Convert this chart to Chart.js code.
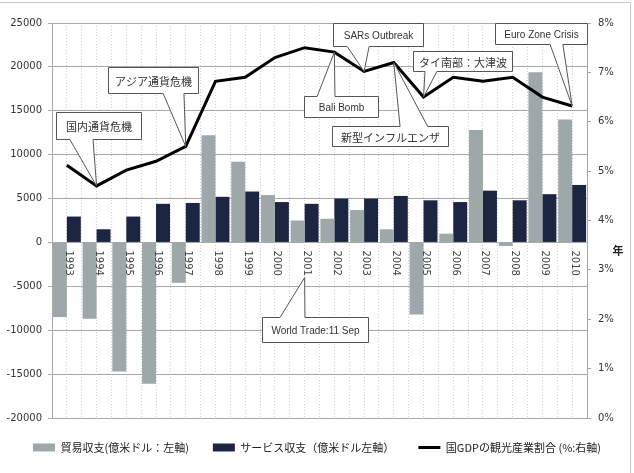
<!DOCTYPE html>
<html>
<head>
<meta charset="utf-8">
<script src="https://cdn.jsdelivr.net/npm/chart.js@4.4.1/dist/chart.umd.min.js"></script>
<style>
    html, body { margin: 0; padding: 0; background: #fff; }
    #wrap { width: 634px; height: 473px; }
</style>
</head>
<body>
<div id="wrap"><canvas id="chartJS1" width="634" height="473"></canvas></div>
<script>
// years on the category axis
var years = ['1993', '1994', '1995', '1996', '1997', '1998', '1999', '2000', '2001',
    '2002', '2003', '2004', '2005', '2006', '2007', '2008', '2009', '2010'];

// 貿易収支 (億米ドル, left axis)
var tradeBalance = [-8500, -8700, -14700, -16100, -4600, 12200, 9200, 5400, 2500,
    2700, 3700, 1500, -8200, 1000, 12800, -400, 19400, 14000];

// サービス収支 (億米ドル, left axis)
var serviceBalance = [2950, 1500, 2950, 4400, 4500, 5200, 5800, 4600, 4400,
    5000, 5000, 5300, 4800, 4600, 5900, 4800, 5500, 6550];

// 国GDPの観光産業割合 (%, right axis)
var tourismShare = [5.12, 4.7, 5.02, 5.2, 5.5, 6.82, 6.9, 7.3, 7.5,
    7.41, 7.02, 7.2, 6.5, 6.9, 6.82, 6.9, 6.5, 6.32];

// axis ranges
var leftMin = -20000, leftMax = 25000, leftStep = 5000;
var rightMin = 0, rightMax = 8, rightStep = 1;

// callouts: box in (category index, right axis %), wedge base on the box edge, tip on a year
var callouts = [
    { text: '国内通貨危機', box: [-0.37, 2.5, 6.2, 5.65], base: [0.1, 0.88], year: 1 },
    { text: 'アジア通貨危機', box: [1.38, 4.41, 7.11, 6.58], base: [3.24, 3.94], year: 4 },
    { text: 'SARs Outbreak', box: [8.95, 11.98, 8.0, 7.53], base: [9.43, 10.17], year: 10 },
    { text: 'Bali Bomb', box: [7.98, 10.47, 6.52, 6.1], base: [8.42, 9.02], year: 9 },
    { text: '新型インフルエンザ', box: [8.92, 12.82, 5.91, 5.51], base: [11.21, 12.14], year: 11 },
    { text: 'タイ南部：大津波', box: [11.65, 14.98, 7.43, 7.03], base: [12.05, 12.45], year: 12 },
    { text: 'Euro Zone Crisis', box: [14.4, 17.5, 8.0, 7.58], base: [16.26, 16.69], year: 17 },
    { text: 'World Trade:11 Sep', box: [6.57, 10.13, 2.05, 1.54], base: [7.17, 8.01], year: 8, leftValue: -4000 }
];

var tickFont = { family: 'DejaVu Sans', size: 10 };
var jpFont = '"Noto Sans CJK JP", "Noto Sans", sans-serif';

var extrasPlugin = {
    id: 'extras',
    beforeDraw: function (chart) {
        var ctx = chart.ctx;
        ctx.save();
        ctx.strokeStyle = '#c8c8c8';
        ctx.lineWidth = 1;
        ctx.beginPath();
        ctx.moveTo(0, 2.5);
        ctx.lineTo(630.5, 2.5);
        ctx.lineTo(630.5, 473);
        ctx.stroke();
        ctx.restore();
    },
    afterDatasetsDraw: function (chart) {
        var ctx = chart.ctx;
        var xs = chart.scales.x, yl = chart.scales.y, yr = chart.scales.y1;
        var lineMeta = chart.getDatasetMeta(2);

        // year labels, rotated clockwise, just under the zero line
        ctx.save();
        ctx.fillStyle = '#444';
        ctx.font = '10px "DejaVu Sans"';
        ctx.textAlign = 'left';
        ctx.textBaseline = 'middle';
        var y0 = yl.getPixelForValue(0);
        for (var i = 0; i < years.length; i++) {
            ctx.save();
            ctx.translate(xs.getPixelForValue(i) + 2, y0 + 8);
            ctx.rotate(Math.PI / 2);
            ctx.fillText(years[i], 0, 0);
            ctx.restore();
        }
        // axis title 年
        ctx.fillStyle = '#222';
        ctx.font = 'bold 11px ' + jpFont;
        ctx.textAlign = 'center';
        ctx.fillText('年', chart.chartArea.right + 31, y0 + 8);
        ctx.restore();

        // callouts
        callouts.forEach(function (c) {
            var l = Math.round(xs.getPixelForValue(c.box[0])) + 0.5;
            var r = Math.round(xs.getPixelForValue(c.box[1])) + 0.5;
            var t = Math.round(yr.getPixelForValue(c.box[2])) + 0.5;
            var b = Math.round(yr.getPixelForValue(c.box[3])) + 0.5;
            var b0 = xs.getPixelForValue(c.base[0]);
            var b1 = xs.getPixelForValue(c.base[1]);
            var tx, ty;
            if (c.leftValue !== undefined) {
                tx = xs.getPixelForValue(c.year);
                ty = yl.getPixelForValue(c.leftValue);
            } else {
                tx = lineMeta.data[c.year].x;
                ty = lineMeta.data[c.year].y;
            }
            ctx.save();
            ctx.beginPath();
            ctx.moveTo(l, t);
            if (ty < t) { ctx.lineTo(b0, t); ctx.lineTo(tx, ty); ctx.lineTo(b1, t); }
            ctx.lineTo(r, t);
            ctx.lineTo(r, b);
            if (ty > b) { ctx.lineTo(b1, b); ctx.lineTo(tx, ty); ctx.lineTo(b0, b); }
            ctx.lineTo(l, b);
            ctx.closePath();
            ctx.fillStyle = '#fff';
            ctx.fill();
            ctx.strokeStyle = '#555';
            ctx.lineWidth = 1;
            ctx.lineJoin = 'miter';
            ctx.stroke();
            ctx.fillStyle = '#333';
            ctx.font = (/^[\x00-\x7f]+$/.test(c.text) ? '10px "Liberation Sans"' : '11px ' + jpFont);
            ctx.textAlign = 'center';
            ctx.textBaseline = 'middle';
            ctx.fillText(c.text, (l + r) / 2, (t + b) / 2 + 1);
            ctx.restore();
        });
    }
};

var ctx1 = document.getElementById('chartJS1').getContext('2d');
var chart1 = new Chart(ctx1, {
    type: 'bar',
    data: {
        labels: years,
        datasets: [{
            label: '貿易収支(億米ドル：左軸)',
            data: tradeBalance,
            backgroundColor: '#9ea8a9',
            borderWidth: 0,
            yAxisID: 'y',
            order: 1,
            pointStyle: 'rect',
            categoryPercentage: 0.94,
            barPercentage: 1.0
        }, {
            label: 'サービス収支（億米ドル左軸）',
            data: serviceBalance,
            backgroundColor: '#1c2541',
            borderWidth: 0,
            yAxisID: 'y',
            order: 1,
            pointStyle: 'rect',
            categoryPercentage: 0.94,
            barPercentage: 1.0
        }, {
            type: 'line',
            label: '国GDPの観光産業割合 (%:右軸)',
            data: tourismShare,
            borderColor: '#000',
            backgroundColor: '#000',
            borderWidth: 3,
            pointRadius: 0,
            pointBorderWidth: 3,
            pointStyle: 'line',
            tension: 0,
            yAxisID: 'y1',
            order: 0
        }]
    },
    options: {
        responsive: false,
        animation: false,
        layout: { padding: { top: 23, left: 0, right: 0, bottom: 10 } },
        plugins: {
            legend: {
                position: 'bottom',
                labels: {
                    usePointStyle: true,
                    pointStyleWidth: 22,
                    boxHeight: 8,
                    padding: 24,
                    color: '#222',
                    font: { family: jpFont, size: 11 },
                    sort: function (a, b) { return a.datasetIndex - b.datasetIndex; }
                }
            },
            tooltip: { enabled: false }
        },
        scales: {
            x: {
                offset: true,
                ticks: { display: false },
                grid: { offset: true, color: '#d0d0d0', drawTicks: false },
                border: { display: false, dash: [1, 2] }
            },
            xc: {
                type: 'category',
                labels: years,
                offset: true,
                position: 'bottom',
                ticks: { display: false },
                grid: { offset: false, color: '#d0d0d0', drawTicks: false },
                border: { display: false, dash: [1, 2] }
            },
            y: {
                position: 'left',
                min: leftMin,
                max: leftMax,
                ticks: {
                    stepSize: leftStep, color: '#333', font: tickFont, padding: 6,
                    callback: function (v) { return String(v); }
                },
                grid: { color: '#a8a8a8', tickLength: 4, tickColor: '#a8a8a8' },
                border: { color: '#a8a8a8' },
                afterFit: function (scale) { scale.width = 52; }
            },
            y1: {
                position: 'right',
                min: rightMin,
                max: rightMax,
                ticks: {
                    stepSize: rightStep, color: '#333', font: tickFont, padding: 7,
                    callback: function (v) { return v + '%'; }
                },
                grid: { drawOnChartArea: false, tickLength: 4, tickColor: '#a8a8a8' },
                border: { color: '#a8a8a8' },
                afterFit: function (scale) { scale.width = 47; }
            }
        }
    },
    plugins: [extrasPlugin]
});
</script>
</body>
</html>
